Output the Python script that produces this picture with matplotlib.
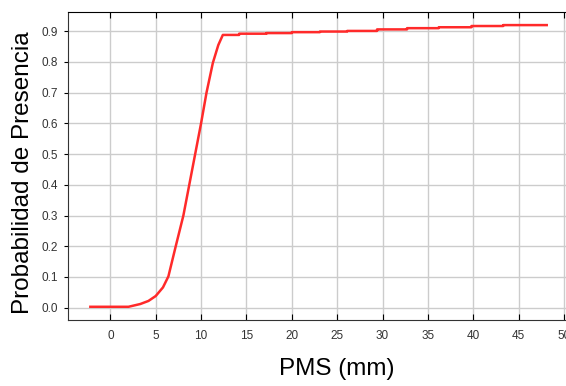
import matplotlib.pyplot as plt
import numpy as np

plt.rcParams['font.family'] = ['Liberation Sans', 'DejaVu Sans']

# curve (PMS in mm, probability)
pms = [-2.2, 0.0, 2.0, 3.3, 4.2, 5.0, 5.8, 6.4, 7.2, 8.05, 8.7, 9.35,
       10.0, 10.6, 11.3, 11.9, 12.4, 14.2, 14.2, 17.2, 17.2, 20.0, 20.0,
       23.1, 23.1, 26.1, 26.1, 29.4, 29.4, 32.7, 32.7, 36.2, 36.2, 39.8,
       39.8, 43.3, 43.3, 48.1]
prob = [0.003, 0.003, 0.003, 0.012, 0.022, 0.038, 0.066, 0.102, 0.199,
        0.300, 0.400, 0.500, 0.600, 0.700, 0.797, 0.855, 0.888,
        0.888, 0.892, 0.892, 0.894, 0.894, 0.897, 0.897, 0.899, 0.899,
        0.901, 0.901, 0.906, 0.906, 0.910, 0.910, 0.913, 0.913, 0.917,
        0.917, 0.920, 0.920]

x_ticks = [0, 5, 10, 15, 20, 25, 30, 35, 40, 45, 50]
y_ticks = [0.0, 0.1, 0.2, 0.3, 0.4, 0.5, 0.6, 0.7, 0.8, 0.9]

fig = plt.figure(figsize=(5.66, 3.86), dpi=100)
ax = fig.add_axes([0.1196, 0.171, 0.880, 0.799])

ax.plot(pms, prob, color='#ff2a2a', lw=1.8, solid_joinstyle='round')

ax.set_xlim(-4.7, 50.2)
ax.set_ylim(-0.040, 0.964)
ax.set_xticks(x_ticks)
ax.set_yticks(y_ticks)
ax.set_yticklabels([f'{v:.1f}' for v in y_ticks])
ax.grid(True, color='#cccccc', lw=1.0)
ax.set_axisbelow(True)

ax.tick_params(axis='x', direction='in', length=4, top=True, labelsize=8.5,
               labelcolor='#333333', pad=7)
ax.tick_params(axis='y', direction='out', length=3, labelsize=8.5,
               labelcolor='#333333', pad=4)

for s in ['left', 'bottom']:
    ax.spines[s].set_color('#333333')
ax.spines['top'].set_color('black')
ax.spines['right'].set_visible(False)

ax.set_xlabel('PMS (mm)', fontsize=17.5)
ax.set_ylabel('Probabilidad de Presencia', fontsize=17.5)
ax.xaxis.set_label_coords(0.54, -0.123)
ax.yaxis.set_label_coords(-0.068, 0.477)

fig.savefig('out.png', dpi=100)
